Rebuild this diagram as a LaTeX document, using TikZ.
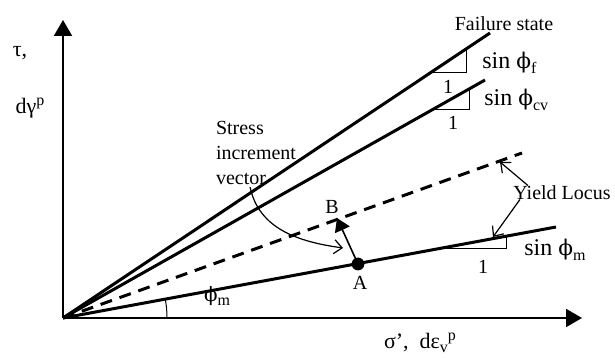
\documentclass[tikz,border=0pt]{standalone}
\usepackage{fontspec}
\setmainfont{Liberation Serif}
\newfontfamily\phifont{DejaVu Serif}
\usetikzlibrary{arrows.meta,calc}
\newcommand{\lowtxt}[1]{\raisebox{-0.45ex}{\footnotesize #1}}
\newcommand{\hightxt}[1]{\raisebox{0.75ex}{\footnotesize #1}}
\newcommand{\phisym}{{\phifont\scalebox{0.9}{ϕ}}}

\begin{document}
\begin{tikzpicture}[x=0.5pt,y=0.5pt,
  axis/.style={line width=1pt,-{Triangle[length=8pt,width=9pt]}},
  locus/.style={line width=1.5pt},
  tri/.style={line width=0.5pt},
  lbl/.style={font=\fontsize{10}{12.5}\selectfont,inner sep=1pt},
  axlbl/.style={font=\fontsize{11}{13}\selectfont,inner sep=1pt},
  slope/.style={font=\fontsize{12}{14}\selectfont,anchor=west,inner sep=1pt},
  ptr/.style={line width=0.6pt,-{Straight Barb[length=4pt,width=7pt]}}
]
\useasboundingbox (-63,-40) rectangle (552,318);
% axes
\coordinate (O) at (0,0);
\coordinate (xtip) at (519,0);
\coordinate (ytip) at (0,298);
\draw[axis] (O) -- (xtip);
\draw[axis] (O) -- (ytip);
\node[axlbl] (ylbl1) at (-43,265) {τ,};
\node[axlbl] (ylbl2) at (-33,210) {dγ\hightxt{p}};
\node[axlbl] (xlbl) at (357,-25) {σ’,\ \ dε\lowtxt{v}\hightxt{p}};
% lines through the origin
\coordinate (fend) at (427,285);
\coordinate (cvend) at (422,238);
\coordinate (dend) at (459,165);
\coordinate (mend) at (493,91);
\draw[locus] (O) -- (fend);
\draw[locus] (O) -- (cvend);
\draw[locus,dash pattern=on 6pt off 4pt] (O) -- (dend);
\draw[locus] (O) -- (mend);
\node[lbl,anchor=south] (fail) at ($(fend)+(14,0)$) {Failure state};
% slope triangles
\draw[tri] ($(O)!0.86!(fend)$) -| ($(O)!0.946!(fend)$);
\draw[tri] ($(O)!0.874!(cvend)$) -| ($(O)!0.964!(cvend)$);
\draw[tri] ($(O)!0.76!(mend)$) -| ($(O)!0.9!(mend)$);
\node[lbl] (one1) at (385,231) {1};
\node[lbl] (one2) at (390,195) {1};
\node[lbl] (one3) at (420,51) {1};
\node[slope] (sinf) at (417,255) {sin \phisym\lowtxt{f}};
\node[slope] (sincv) at (419,218) {sin \phisym\lowtxt{cv}};
\node[slope] (sinm) at (459,68) {sin \phisym\lowtxt{m}};
% mobilised angle
\draw[tri] (104,0) arc[start angle=0,end angle=10.46,radius=52pt];
\node[axlbl] (phim) at (154,22) {\phisym\lowtxt{m}};
% stress increment
\coordinate (A) at (295,54);
\coordinate (B) at (274,100);
\fill (A) circle (3.2pt);
\draw[line width=0.8pt,-{Triangle[length=6.5pt,width=8pt]}] (A) -- (B);
\node[lbl] (Albl) at (297,35) {A};
\node[lbl] (Blbl) at (269,111) {B};
\node[lbl,align=left] (siv) at (193,165) {Stress\\increment\\vector};
\coordinate (sivtip) at (280,70);
\draw[ptr] ($(siv.south west)!0.43!(siv.south east)$) to[out=-78,in=172] (sivtip);
% yield locus pointers
\node[lbl] (yl) at (499,125) {Yield Locus};
\coordinate (ylA) at (437,156);
\coordinate (ylB) at (430,81);
\draw[ptr] ($(yl.north west)+(17,-2)$) -- (ylA);
\draw[ptr] ($(yl.south west)+(9,3)$) -- (ylB);
\end{tikzpicture}
\end{document}
